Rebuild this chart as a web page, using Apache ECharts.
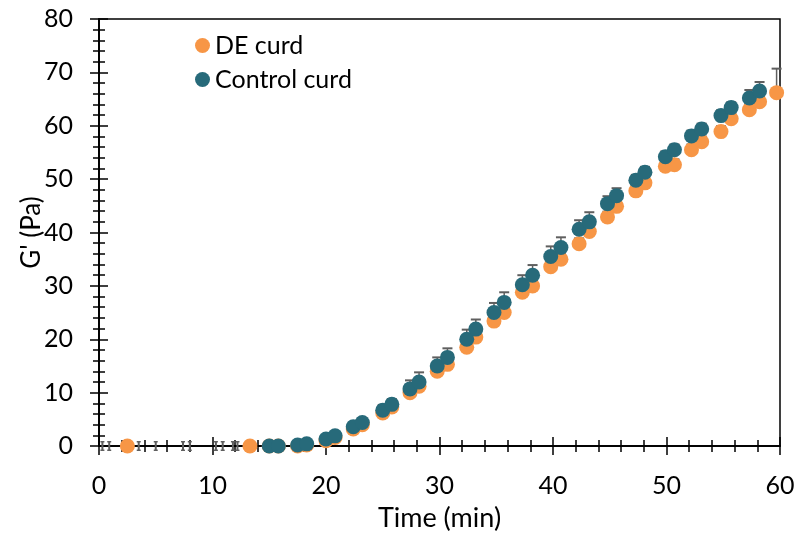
<!DOCTYPE html>
<html><head><meta charset="utf-8">
<script src="https://cdn.jsdelivr.net/npm/echarts@6/dist/echarts.min.js"></script>
<style>html,body{margin:0;padding:0;background:#fff}#c{width:798px;height:537px}</style>
</head><body><div id="c"></div>
<script>
// Shared sampling times (min)
const pairTimes = [15.0,15.8,17.5,18.3,20.0,20.8,22.4,23.2,25.0,25.8,27.4,28.2,29.8,30.7,32.4,33.2,34.8,35.7,37.3,38.2,39.8,40.7,42.3,43.2,44.8,45.6,47.3,48.1,49.9,50.7,52.2,53.1,54.8,55.7,57.3,58.2];
// DE curd
const deTimes = [2.5,13.3].concat(pairTimes).concat([59.7]);
const deValues = [0,0, 0,0,0,0.2,1.0,1.6,3.2,4.0,6.2,7.3,10.0,11.2,14.0,15.3,18.5,20.4,23.4,25.0,28.8,30.0,33.6,35.0,37.9,40.2,42.9,44.9,47.8,49.3,52.4,52.7,55.5,57.0,58.9,61.3,63.0,64.5, 66.2];
const deErrors = [0.5,0.5, 0.3,0.3,0.3,0.3,0.5,0.5,0.5,0.5,0.5,0.5,1,1,1,1,1,1,1,1,1,1,1,1,1,1,1,1,1,1,1,1,1,1,1,1,1,1, 4.5];
// Control curd
const ctrlTimes = pairTimes;
const ctrlValues = [0,0,0.2,0.4,1.3,1.9,3.6,4.4,6.7,7.8,10.7,12.0,15.0,16.6,20.0,21.9,25.0,26.9,30.2,32.0,35.5,37.2,40.6,42.0,45.4,46.9,49.8,51.3,54.2,55.5,58.1,59.4,61.9,63.4,65.2,66.5];
const ctrlErrors = [0.3,0.3,0.3,0.3,0.6,0.6,0.8,0.8,1.0,1.0,1.6,1.8,1.6,1.7,1.8,1.8,1.8,1.9,1.8,1.9,1.9,1.9,1.7,1.8,1.4,1.4,1.0,1.0,1.0,1.0,1.0,1.0,1.0,1.0,1.5,1.7];
// early control readings (markers not visible, error bars only)
const earlyTimes = [0.3,0.9,3.5,5.0,7.4,8.0,10.3,10.9,11.8,12.2];
const earlyValues = [0,0,0,0,0,0,0,0,0,0];
const earlyErrors = [0.8,0.8,0.8,0.8,0.8,0.8,0.8,0.8,0.8,0.8];

const xTicks = [0,10,20,30,40,50,60];
const yTicks = [0,10,20,30,40,50,60,70,80];

const FONT = 'Lato';
const ORANGE = '#F79646';
const TEAL = '#276A7A';
const GREY = '#5f5f5f';

function zip3(a,b,c){return a.map((v,i)=>[v,b[i],c[i]]);}
function zip2(a,b){return a.map((v,i)=>[v,b[i]]);}

function errUp(params, api){
  const x = api.value(0), y = api.value(1), e = api.value(2);
  const top = api.coord([x, y+e]), mid = api.coord([x, y]);
  const hw = 5;
  return {type:'group', children:[
    {type:'line', shape:{x1:top[0],y1:top[1],x2:mid[0],y2:mid[1]}, style:{stroke:GREY,lineWidth:1.5}},
    {type:'line', shape:{x1:top[0]-hw,y1:top[1],x2:top[0]+hw,y2:top[1]}, style:{stroke:GREY,lineWidth:2}}
  ]};
}
function errBoth(params, api){
  const x = api.value(0), y = api.value(1), e = api.value(2);
  const top = api.coord([x, y+e]), bot = api.coord([x, y-e]);
  const hw = 2;
  return {type:'group', children:[
    {type:'line', shape:{x1:top[0],y1:top[1],x2:bot[0],y2:bot[1]}, style:{stroke:GREY,lineWidth:2}},
    {type:'line', shape:{x1:top[0]-hw,y1:top[1],x2:top[0]+hw,y2:top[1]}, style:{stroke:GREY,lineWidth:1.5}},
    {type:'line', shape:{x1:bot[0]-hw,y1:bot[1],x2:bot[0]+hw,y2:bot[1]}, style:{stroke:GREY,lineWidth:1.5}}
  ]};
}

function mkX(inside, labels){
  return {type:'value', min:xTicks[0], max:xTicks[xTicks.length-1], interval:10, position:'bottom',
    axisLine:{show:true, onZero:false, lineStyle:{color:'#000', width:1.5}},
    axisTick:{show:true, inside:inside, length:9, lineStyle:{color:'#000', width:1.5}},
    minorTick:{show:true, splitNumber:5, length:6, lineStyle:{color:'#000', width:1.5}},
    splitLine:{show:false},
    axisLabel:{show:labels, margin:27, color:'#000', fontSize:25, fontFamily:FONT},
    name: labels ? 'Time (min)' : '', nameLocation:'middle', nameGap:59,
    nameTextStyle:{color:'#000', fontSize:27, fontFamily:FONT}
  };
}
function mkY(inside, labels){
  return {type:'value', min:yTicks[0], max:yTicks[yTicks.length-1], interval:10, position:'left',
    axisLine:{show:true, onZero:false, lineStyle:{color:'#000', width:1.5}},
    axisTick:{show:true, inside:inside, length:9, lineStyle:{color:'#000', width:1.5}},
    minorTick:{show:true, splitNumber:5, length:6, lineStyle:{color:'#000', width:1.5}},
    splitLine:{show:false},
    axisLabel:{show:labels, margin:26, color:'#000', fontSize:25, fontFamily:FONT},
    name: labels ? "G' (Pa)" : '', nameLocation:'middle', nameGap:54, nameMoveOverlap:false,
    nameTextStyle:{color:'#000', fontSize:26, fontFamily:FONT}
  };
}

const chart = echarts.init(document.getElementById('c'), null, {renderer:'canvas'});
chart.setOption({
  backgroundColor:'#fff',
  animation:false,
  grid:{left:99, right:18, top:19, bottom:90, show:true, borderColor:'#000', borderWidth:1.5, backgroundColor:'transparent'},
  xAxis:[mkX(false,true), mkX(true,false)],
  yAxis:[mkY(false,true), mkY(true,false)],
  legend:{
    orient:'vertical', left:190, top:28, itemWidth:15, itemHeight:15, itemGap:9,
    icon:'circle',
    textStyle:{color:'#000', fontSize:25, fontFamily:FONT},
    data:['DE curd','Control curd']
  },
  series:[
    {type:'custom', name:'early err', renderItem:errBoth, data:zip3(earlyTimes,earlyValues,earlyErrors), z:1, silent:true, clip:false},
    {type:'custom', name:'DE err', renderItem:errUp, data:zip3(deTimes,deValues,deErrors), z:1, silent:true, clip:false},
    {type:'custom', name:'Ctrl err', renderItem:errUp, data:zip3(ctrlTimes,ctrlValues,ctrlErrors), z:1, silent:true, clip:false},
    {type:'scatter', name:'DE curd', data:zip2(deTimes,deValues), symbolSize:15, itemStyle:{color:ORANGE, opacity:1}, z:3},
    {type:'scatter', name:'Control curd', data:zip2(ctrlTimes,ctrlValues), symbolSize:15, itemStyle:{color:TEAL, opacity:1}, z:4}
  ]
});
</script>
</body></html>
